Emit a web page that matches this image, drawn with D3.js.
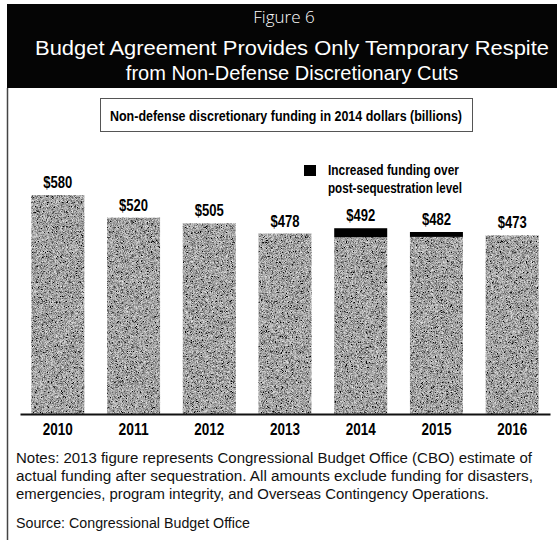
<!DOCTYPE html>
<html>
<head>
<meta charset="utf-8">
<script src="https://cdn.jsdelivr.net/npm/d3@7"></script>
<style>
  html, body { margin: 0; padding: 0; background: #fff; }
  svg { display: block; }
</style>
</head>
<body>
<svg id="chart" width="557" height="540"></svg>
<script>
// Non-defense discretionary funding, 2014 dollars (billions)
const years = ["2010", "2011", "2012", "2013", "2014", "2015", "2016"];
const totals = [580, 520, 505, 478, 492, 482, 473];
// post-sequestration level; the gap up to the total is the added funding
const baseLevels = [580, 520, 505, 478, 468, 469, 473];
const valueLabels = ["$580", "$520", "$505", "$478", "$492", "$482", "$473"];

const figureLabel = "Figure 6";
const titleLines = [
  "Budget Agreement Provides Only Temporary Respite",
  "from Non-Defense Discretionary Cuts"
];
const subtitle = "Non-defense discretionary funding in 2014 dollars (billions)";
const legendLines = ["Increased funding over", "post-sequestration level"];
const noteLines = [
  "Notes: 2013 figure represents Congressional Budget Office (CBO) estimate of",
  "actual funding after sequestration. All amounts exclude funding for disasters,",
  "emergencies, program integrity, and Overseas Contingency Operations."
];
const sourceLine = "Source: Congressional Budget Office";

const svg = d3.select("#chart");
const narrow = "'Liberation Sans Narrow', 'Arial Narrow', 'Liberation Sans', sans-serif";
const body = "'Liberation Sans', Arial, sans-serif";

// grainy grey fill for the bars
const defs = svg.append("defs");
const grain = defs.append("filter").attr("id", "grain")
  .attr("x", 0).attr("y", 0).attr("width", 1).attr("height", 1);
grain.append("feTurbulence").attr("type", "fractalNoise")
  .attr("baseFrequency", 2.2).attr("numOctaves", 1).attr("seed", 7).attr("result", "noise");
grain.append("feColorMatrix").attr("in", "noise").attr("type", "matrix")
  .attr("values", "1.6 0 0 0 -0.44  1.6 0 0 0 -0.44  1.6 0 0 0 -0.44  0 0 0 0 1")
  .attr("result", "grey");
grain.append("feComposite").attr("in", "grey").attr("in2", "SourceGraphic").attr("operator", "in");

// header band
svg.append("rect").attr("x", 7).attr("y", 4).attr("width", 550).attr("height", 84).attr("fill", "#050505");
svg.append("text").attr("x", 284).attr("y", 23).attr("text-anchor", "middle")
  .attr("fill", "#fff").attr("font-family", "'Open Sans', sans-serif").attr("font-weight", 300)
  .attr("font-size", 17).text(figureLabel);
svg.selectAll("text.title").data(titleLines).join("text").attr("class", "title")
  .attr("x", 292).attr("y", (d, i) => 55 + i * 25).attr("text-anchor", "middle")
  .attr("fill", "#fff").attr("font-family", body).attr("font-size", 20)
  .text(d => d)
  .each(function (d, i) { if (i === 0) d3.select(this).attr("textLength", 514).attr("lengthAdjust", "spacingAndGlyphs"); });

// panel left border
svg.append("line").attr("x1", 7.5).attr("x2", 7.5).attr("y1", 88).attr("y2", 540)
  .attr("stroke", "#444").attr("stroke-width", 1.5);

// subtitle box
svg.append("rect").attr("x", 100.5).attr("y", 98.5).attr("width", 372).attr("height", 33)
  .attr("fill", "none").attr("stroke", "#555").attr("stroke-width", 1);
svg.append("text").attr("x", 286).attr("y", 121).attr("text-anchor", "middle")
  .attr("font-family", narrow).attr("font-weight", "bold").attr("font-size", 14.5)
  .attr("textLength", 352).attr("lengthAdjust", "spacingAndGlyphs")
  .text(subtitle);

// scales
const x = d3.scaleBand().domain(years).range([20, 550]).paddingInner(0.3).paddingOuter(0.15);
const y = d3.scaleLinear().domain([0, 580]).range([414, 195]);

// bars (post-sequestration level)
svg.append("g").attr("filter", "url(#grain)")
  .selectAll("rect").data(years).join("rect")
  .attr("x", d => x(d)).attr("width", x.bandwidth())
  .attr("y", (d, i) => y(baseLevels[i]))
  .attr("height", (d, i) => y(0) - y(baseLevels[i]))
  .attr("fill", "#888");

// increased funding segments
svg.append("g").selectAll("rect").data(years.filter((d, i) => totals[i] > baseLevels[i])).join("rect")
  .attr("x", d => x(d)).attr("width", x.bandwidth())
  .attr("y", d => y(totals[years.indexOf(d)]))
  .attr("height", d => y(baseLevels[years.indexOf(d)]) - y(totals[years.indexOf(d)]))
  .attr("fill", "#000");

// value labels
svg.append("g").selectAll("text").data(years).join("text")
  .attr("x", d => x(d) + x.bandwidth() / 2)
  .attr("y", (d, i) => y(totals[i]) - 7)
  .attr("text-anchor", "middle").attr("font-family", narrow).attr("font-weight", "bold")
  .attr("font-size", 16).attr("textLength", 29).attr("lengthAdjust", "spacingAndGlyphs")
  .text((d, i) => valueLabels[i]);

// baseline axis with year labels
const axis = svg.append("g").attr("transform", `translate(0,${y(0)})`)
  .call(d3.axisBottom(x).tickSize(0).tickPadding(9));
axis.select(".domain").attr("stroke", "#111").attr("stroke-width", 2);
axis.selectAll("text").attr("font-family", narrow).attr("font-weight", "bold")
  .attr("font-size", 16.5).attr("fill", "#000")
  .attr("textLength", 30).attr("lengthAdjust", "spacingAndGlyphs");

// legend
const legendWidths = [131, 134];
svg.append("rect").attr("x", 304).attr("y", 165).attr("width", 12).attr("height", 11).attr("fill", "#000");
svg.selectAll("text.legend").data(legendLines).join("text").attr("class", "legend")
  .attr("x", 328).attr("y", (d, i) => 175 + i * 18)
  .attr("font-family", narrow).attr("font-weight", "bold").attr("font-size", 15)
  .attr("textLength", (d, i) => legendWidths[i]).attr("lengthAdjust", "spacingAndGlyphs")
  .text(d => d);

// notes and source
const noteWidths = [516, 517, 473];
svg.selectAll("text.note").data(noteLines).join("text").attr("class", "note")
  .attr("x", 16).attr("y", (d, i) => 463 + i * 18)
  .attr("font-family", body).attr("font-size", 14).attr("fill", "#111")
  .attr("textLength", (d, i) => noteWidths[i]).attr("lengthAdjust", "spacingAndGlyphs")
  .text(d => d);
svg.append("text").attr("x", 16).attr("y", 528)
  .attr("font-family", body).attr("font-size", 14).attr("fill", "#111")
  .attr("textLength", 234).attr("lengthAdjust", "spacingAndGlyphs")
  .text(sourceLine);
</script>
</body>
</html>
